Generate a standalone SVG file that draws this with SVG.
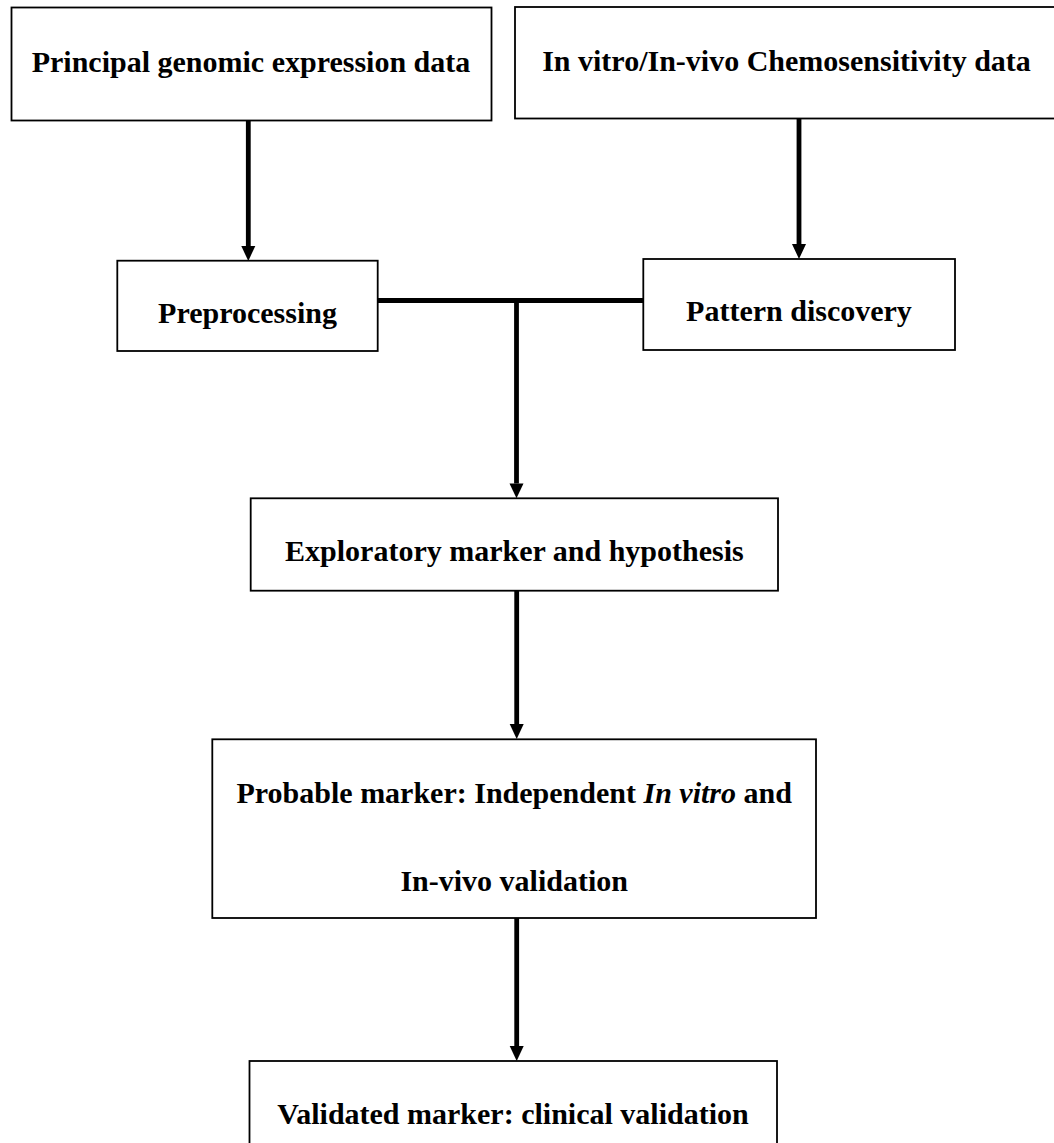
<svg xmlns="http://www.w3.org/2000/svg" width="1054" height="1143" viewBox="0 0 1054 1143">
  <style>
    .box { fill: #ffffff; stroke: #000000; stroke-width: 1.8; }
    .label { font-family: "Liberation Serif", "Times New Roman", serif; font-weight: bold; font-size: 30px; fill: #000000; text-anchor: middle; }
    .link { stroke: #000000; stroke-width: 4.8; fill: none; }
    .head { fill: #000000; }
    .it { font-style: italic; }
  </style>

  <rect width="1054" height="1143" fill="#ffffff"/>

  <!-- connectors: thick shafts with solid triangular heads -->
  <g id="connectors">
    <line class="link" x1="248.3" y1="120.5" x2="248.3" y2="246" />
    <path class="head" d="M241.3,246 L255.3,246 L248.3,261 Z"/>
    <line class="link" x1="799" y1="118.5" x2="799" y2="244" />
    <path class="head" d="M792,244 L806,244 L799,259 Z"/>
    <line class="link" x1="377.7" y1="300.5" x2="645" y2="300.5" />
    <line class="link" x1="516.5" y1="298.5" x2="516.5" y2="483.5" />
    <path class="head" d="M509.5,483.5 L523.5,483.5 L516.5,498.3 Z"/>
    <line class="link" x1="516.7" y1="591" x2="516.7" y2="724" />
    <path class="head" d="M509.7,724 L523.7,724 L516.7,739 Z"/>
    <line class="link" x1="516.7" y1="918" x2="516.7" y2="1046" />
    <path class="head" d="M509.7,1046 L523.7,1046 L516.7,1061 Z"/>
  </g>

  <g id="node-genomic">
    <rect class="box" x="11.5" y="7.5" width="480" height="113"/>
    <text class="label" x="251" y="71.5">Principal genomic expression data</text>
  </g>

  <g id="node-chemosensitivity">
    <rect class="box" x="515" y="7" width="543" height="111.5"/>
    <text class="label" x="786.5" y="71">In vitro/In-vivo Chemosensitivity data</text>
  </g>

  <g id="node-preprocessing">
    <rect class="box" x="117.3" y="260.7" width="260.4" height="90.3"/>
    <text class="label" x="247.5" y="323">Preprocessing</text>
  </g>

  <g id="node-pattern">
    <rect class="box" x="643.3" y="259" width="311.7" height="91"/>
    <text class="label" x="799" y="321">Pattern discovery</text>
  </g>

  <g id="node-exploratory">
    <rect class="box" x="250.7" y="498.3" width="527.3" height="92.4"/>
    <text class="label" x="514.4" y="561">Exploratory marker and hypothesis</text>
  </g>

  <g id="node-probable">
    <rect class="box" x="212.3" y="739.3" width="603.7" height="178.7"/>
    <text class="label" x="514.2" y="802.5">Probable marker: Independent <tspan class="it">In vitro</tspan> and</text>
    <text class="label" x="514.2" y="891">In-vivo validation</text>
  </g>

  <g id="node-validated">
    <rect class="box" x="249.5" y="1061" width="527.5" height="100"/>
    <text class="label" x="513" y="1124">Validated marker: clinical validation</text>
  </g>
</svg>
